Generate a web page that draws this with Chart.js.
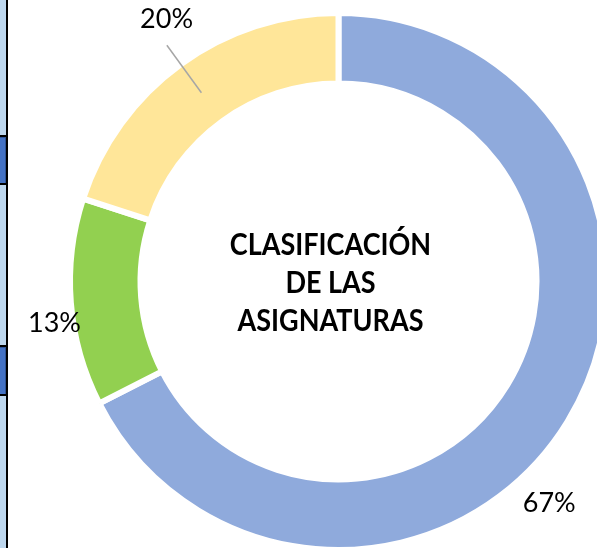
<!DOCTYPE html>
<html>
<head>
<meta charset="utf-8">
<script src="https://cdn.jsdelivr.net/npm/chart.js@4"></script>
<style>
    html, body { margin: 0; padding: 0; background: #fff; }
    #wrap { position: relative; width: 597px; height: 548px; overflow: hidden; }
    #chart { position: absolute; left: 0; top: 0; }
    .strip { position: absolute; left: 0; top: 0; width: 6px; height: 548px; background: #bdd7ee; }
    .vline { position: absolute; left: 6px; top: 0; width: 2px; height: 548px; background: #000; }
    .hline { position: absolute; left: 0; width: 8px; height: 2px; background: #000; }
    .box { position: absolute; left: 0; width: 5px; background: #4472c4; border: 1px solid #2f5597; border-left: none; }
</style>
</head>
<body>
<div id="wrap">
    <div class="strip"></div>
    <div class="box" style="top:137px;height:45px;"></div>
    <div class="box" style="top:347px;height:46px;"></div>
    <div class="hline" style="top:135px;"></div>
    <div class="hline" style="top:183px;"></div>
    <div class="hline" style="top:345px;"></div>
    <div class="hline" style="top:394px;"></div>
    <div class="vline"></div>
    <canvas id="chart" width="597" height="548"></canvas>
</div>
<script>
// data
const categories = ['Grupo A', 'Grupo B', 'Grupo C'];
const shares = [67.5, 12.5, 20];
const shareLabels = ['67%', '13%', '20%'];
const sliceColors = ['#8faadc', '#92d050', '#ffe699'];
const centerTitle = ['CLASIFICACIÓN', 'DE LAS', 'ASIGNATURAS'];

// label placement: extra angle (deg) from the slice middle, and distance from centre
const labelNudge = [14.8, -3.8, 2.8];
const labelDist = [305, 287, 314];

const ringText = {
    id: 'ringText',
    afterDatasetsDraw(chart) {
        const { ctx } = chart;
        const arcs = chart.getDatasetMeta(0).data;
        if (!arcs.length) {
            return;
        }
        const cx = arcs[0].x;
        const cy = arcs[0].y;
        const outer = arcs[0].outerRadius - 3;
        const inner = arcs[0].innerRadius + 3;

        ctx.save();
        ctx.fillStyle = '#000';
        ctx.textAlign = 'center';
        ctx.textBaseline = 'alphabetic';
        ctx.font = '27px Lato, "Open Sans", sans-serif';
        arcs.forEach((arc, i) => {
            const mid = (arc.startAngle + arc.endAngle) / 2;
            const a = mid + (labelNudge[i] * Math.PI) / 180;
            const lx = cx + labelDist[i] * Math.cos(a);
            const ly = cy + labelDist[i] * Math.sin(a);
            ctx.fillText(shareLabels[i], lx, ly + 9.5);
            if (i === 2) {
                const rm = (outer + inner) / 2;
                ctx.strokeStyle = '#a6a6a6';
                ctx.lineWidth = 1.5;
                ctx.beginPath();
                ctx.moveTo(cx + 292 * Math.cos(mid), cy + 292 * Math.sin(mid));
                ctx.lineTo(cx + rm * Math.cos(mid), cy + rm * Math.sin(mid));
                ctx.stroke();
            }
        });
        ctx.restore();

        // centre title, a bit condensed like the original bold face
        ctx.save();
        ctx.fillStyle = '#000';
        ctx.textAlign = 'center';
        ctx.textBaseline = 'alphabetic';
        ctx.font = 'bold 30px Lato, "Open Sans", sans-serif';
        ctx.translate(cx - 8, cy);
        ctx.scale(0.9, 1);
        centerTitle.forEach((line, i) => {
            ctx.fillText(line, 0, -26.5 + i * 38);
        });
        ctx.restore();
    },
};

new Chart(document.getElementById('chart'), {
    type: 'doughnut',
    data: {
        labels: categories,
        datasets: [
            {
                data: shares,
                backgroundColor: sliceColors,
                borderColor: '#ffffff',
                borderWidth: 6,
                hoverOffset: 0,
                clip: false,
            },
        ],
    },
    options: {
        responsive: false,
        animation: false,
        radius: 268.5,
        cutout: '73.74%',
        layout: { padding: { left: 80, right: 0, top: 15, bottom: 0 } },
        plugins: {
            legend: { display: false },
            tooltip: { enabled: false },
        },
    },
    plugins: [ringText],
});
</script>
</body>
</html>
